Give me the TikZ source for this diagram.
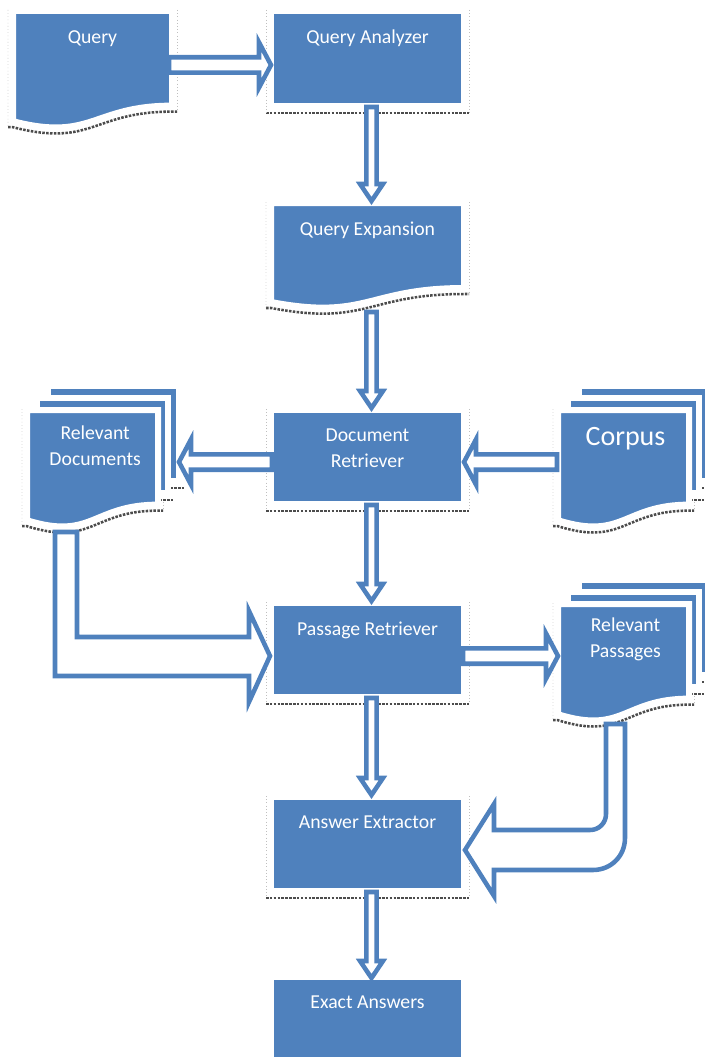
\documentclass[tikz,border=0pt]{standalone}
\usepackage{fontspec}
\setmainfont{Carlito}
\usepackage{tikz}
\usetikzlibrary{positioning, calc, backgrounds}
\definecolor{docblue}{HTML}{4F81BD}
\tikzset{
x=0.75pt, y=-0.75pt, % one unit is one pixel, y grows downwards
page/.style={fill=docblue, draw=white, line width=4.5pt, inner sep=0pt, outer sep=0pt}, % blue sheet with a white rim
docnode/.style={inner sep=0pt, outer sep=0pt}, % frame of a wavy document, filled by \docpage
dims/.style 2 args={minimum width=#1*0.75pt, minimum height=#2*0.75pt}, % sizes in pixels
txt/.style={text=white, font=\fontsize{14.8}{19}\selectfont, align=center, inner sep=0pt},
hatch/.style={draw=black!70, line width=1.9pt, densely dotted}, % shadow line under a shape
frameline/.style={draw=black!25, line width=0.4pt, dotted}, % faint frame beside a shape
arrowline/.style={fill=white, draw=docblue, line width=3.4pt}, % outlined block arrows
}
% wavy document sheet on a docnode
\newcommand{\docpage}[1]{\path[page] (#1.north west) -- (#1.north east) -- ($(#1.north east)!0.802!(#1.south east)$) .. controls ($(#1.north)!0.802!(#1.south)$) and ($(#1.north)!1.107!(#1.south)$) .. ($(#1.north west)!0.934!(#1.south west)$) -- cycle;}
% shadow and frame of a wavy document
\newcommand{\docshadow}[1]{%
\draw[hatch] ($(#1.north west)!0.934!(#1.south west)+(-5,6)$) -- ($(#1.north west)!0.934!(#1.south west)+(0,6)$) .. controls ($(#1.north)!1.107!(#1.south)+(0,6)$) and ($(#1.north)!0.802!(#1.south)+(0,6)$) .. ($(#1.north east)!0.802!(#1.south east)+(0,6)$) -- ($(#1.north east)!0.802!(#1.south east)+(5,6)$);
\draw[frameline] ($(#1.north west)+(-5,-1)$) -- ($(#1.north west)!0.934!(#1.south west)+(-5,6)$);
\draw[frameline] ($(#1.north east)+(5,-1)$) -- ($(#1.north east)!0.802!(#1.south east)+(5,6)$);}
% shadow of a plain sheet
\newcommand{\pagehatch}[1]{\draw[hatch] ($(#1.south west)+(-5,7)$) -- ($(#1.south east)+(5,7)$);}
% shadow and frame of a box
\newcommand{\boxshadow}[1]{\pagehatch{#1}
\draw[frameline] ($(#1.north west)+(-5,-1)$) -- ($(#1.south west)+(-5,7)$);
\draw[frameline] ($(#1.north east)+(5,-1)$) -- ($(#1.south east)+(5,7)$);}
% block arrow: start, tip, half shaft, half head, head length
\newcommand{\blockarrow}[5]{%
\coordinate (hb) at ($(#2)!#5!(#1)$);
\draw[arrowline] ($(#1)!#3!90:(#2)$) -- ($(hb)!#3!90:(#2)$) -- ($(hb)!#4!90:(#2)$) -- (#2) -- ($(hb)!#4!-90:(#2)$) -- ($(hb)!#3!-90:(#2)$) -- ($(#1)!#3!-90:(#2)$) -- cycle;}
\newcommand{\vblock}[2]{\blockarrow{#1}{#2}{3.9pt}{8.6pt}{12.75pt}}
\newcommand{\hblock}[2]{\blockarrow{#1}{#2}{5.8pt}{17pt}{9pt}}

\begin{document}
\begin{tikzpicture}
\useasboundingbox (0,0) rectangle (704,1063);

% main column
\node[page, dims={193}{95}] (qa) at (367.5,58.5) {};
\node[docnode, dims={193}{106}] (qe) at (367.5,256) {};
\node[page, dims={193}{94}] (dr) at (367.5,457) {};
\node[page, dims={193}{94}] (pr) at (367.5,650) {};
\node[page, dims={193}{94}] (ae) at (367.5,844) {};
\node[page, dims={193}{83}] (ea) at (367.5,1018.5) {};
\docpage{qe}

% documents at the sides
\node[docnode, dims={159}{118}] (q) at (92.5,70) {};
\docpage{q}
\node[page, dims={131}{95}] (rd3) at (113.5,433.5) {};
\node[page, dims={131}{95}] (rd2) at (102.5,445.5) {};
\node[docnode, dims={131}{118}] (rd) at (92.5,469) {};
\docpage{rd}
\node[page, dims={131}{95}] (co3) at (644.5,433.5) {};
\node[page, dims={131}{95}] (co2) at (633.5,445.5) {};
\node[docnode, dims={131}{118}] (co) at (623.5,469) {};
\docpage{co}
\node[page, dims={131}{95}] (rp3) at (644.5,627.5) {};
\node[page, dims={131}{95}] (rp2) at (633.5,639.5) {};
\node[docnode, dims={131}{118}] (rp) at (623.5,663) {};
\docpage{rp}

\begin{pgfonlayer}{background}
\boxshadow{qa} \boxshadow{dr} \boxshadow{pr} \boxshadow{ae}
\pagehatch{ea}
\docshadow{q} \docshadow{qe} \docshadow{rd} \docshadow{co} \docshadow{rp}
\pagehatch{rd2} \pagehatch{rd3} \pagehatch{co2} \pagehatch{co3} \pagehatch{rp2} \pagehatch{rp3}
\end{pgfonlayer}

% labels
\node[txt, below=14.25pt of q.north] (qText) {Query};
\node[txt, below=14.25pt of qa.north] (qaText) {Query Analyzer};
\node[txt, below=14.25pt of qe.north] (qeText) {Query Expansion};
\node[txt, below=14.25pt of dr.north] (drText) {Document\\Retriever};
\node[txt, below=14.25pt of pr.north] (prText) {Passage Retriever};
\node[txt, below=14.25pt of ae.north] (aeText) {Answer Extractor};
\node[txt, below=14.25pt of ea.north] (eaText) {Exact Answers};
\node[txt, below=12pt of rd.north, xshift=2pt] (rdText) {Relevant\\Documents};
\node[txt, font=\fontsize{21}{25}\selectfont, below=12.75pt of co.north, xshift=1.5pt] (coText) {Corpus};
\node[txt, below=10.5pt of rp.north, xshift=1.5pt] (rpText) {Relevant\\Passages};

% straight arrows
\coordinate (qaOut) at ($(qa.south)+(4,1)$);
\coordinate (qeIn) at ($(qe.north)+(4,-2)$);
\vblock{qaOut}{qeIn}
\coordinate (qeOut) at ($(qe.south)+(4,3)$);
\coordinate (drIn) at ($(dr.north)+(4,-2)$);
\vblock{qeOut}{drIn}
\coordinate (drOut) at ($(dr.south)+(4,1)$);
\coordinate (prIn) at ($(pr.north)+(4,-2)$);
\vblock{drOut}{prIn}
\coordinate (prOut) at ($(pr.south)+(4,1)$);
\coordinate (aeIn) at ($(ae.north)+(4,-2)$);
\vblock{prOut}{aeIn}
\coordinate (aeOut) at ($(ae.south)+(4,1)$);
\coordinate (eaIn) at ($(ea.north)+(4,1)$);
\vblock{aeOut}{eaIn}

\coordinate (qOut) at ($(q.east)+(-3,-5)$);
\coordinate (qaIn) at (qa.west |- qOut);
\hblock{qOut}{qaIn}
\coordinate (drLeft) at ($(dr.west)+(1,5)$);
\coordinate (rdIn) at (rd3.east |- drLeft);
\hblock{drLeft}{rdIn}
\coordinate (coOut) at ($(co.west)+(-1,-7)$);
\coordinate (drRight) at (dr.east |- coOut);
\hblock{coOut}{drRight}
\coordinate (prRight) at ($(pr.east)+(-1,6)$);
\coordinate (rpIn) at (rp.west |- prRight);
\hblock{prRight}{rpIn}

% bent arrows
\coordinate (rdOut) at ($(rd.south)+(-26.5,4)$);
\coordinate (prLeft) at ($(pr.west)+(-1,6)$);
\draw[arrowline] ($(rdOut)+(-11,0)$) -- ++(22,0) |- ($(prLeft)+(-21,-19)$) -- ++(0,-26) -- (prLeft) -- ++(-21,46) -- ++(0,-26) -- ($(rdOut |- prLeft)+(-11,20)$) -- cycle;
\coordinate (rpOut) at ($(rp.south)+(-8,2)$);
\coordinate (aeRight) at ($(ae.east)+(1,6)$);
\draw[arrowline] ($(rpOut)+(-9.5,0)$) -- ++(19,0) -- ($(rpOut |- aeRight)+(9.5,-12)$) .. controls +(0,18) and +(18,0) .. ($(aeRight)+(128,20)$) -- ($(aeRight)+(29,20)$) -- ++(0,26) -- (aeRight) -- ++(29,-46) -- ++(0,26) -- ($(aeRight)+(125,-20)$) .. controls +(9,0) and +(0,9) .. ($(rpOut |- aeRight)+(-9.5,-36)$) -- cycle;
\end{tikzpicture}
\end{document}
